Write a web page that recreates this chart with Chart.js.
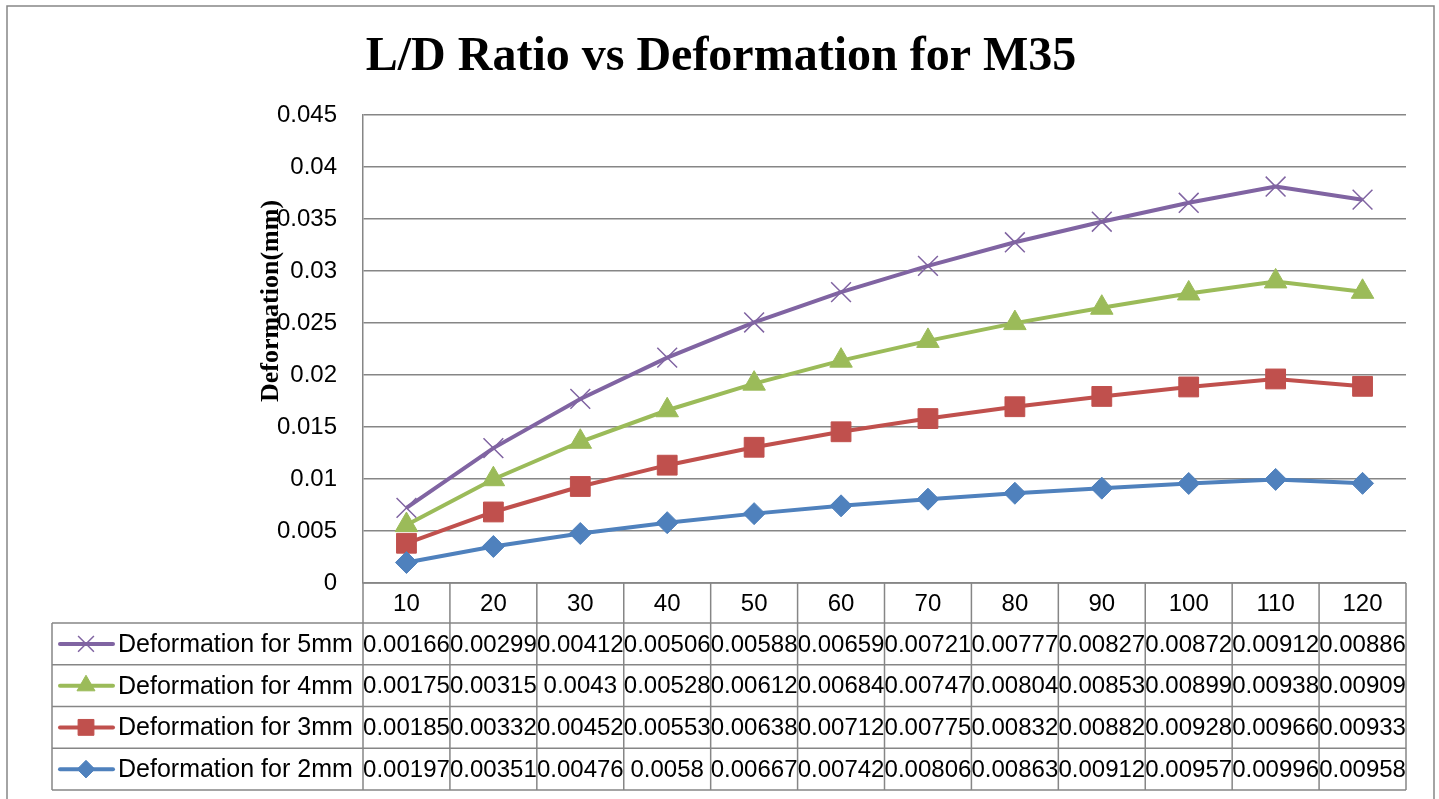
<!DOCTYPE html>
<html lang="en">
<head>
    <meta charset="UTF-8" />
    <title>L/D Ratio vs Deformation for M35</title>
    <script src="https://cdn.jsdelivr.net/npm/chart.js"></script>
    <style>
        html, body { margin: 0; padding: 0; background: #fff; }
        .wrap { width: 1439px; height: 799px; position: relative; }
    </style>
</head>
<body>

    <div class="wrap">
        <canvas id="ldChart" width="1439" height="799"></canvas>
    </div>

    <script>
        // L/D ratios (categories)
        const ratios = ['10', '20', '30', '40', '50', '60', '70', '80', '90', '100', '110', '120'];

        // deformation values per diameter, as listed in the data table
        const def5mm = [0.00166, 0.00299, 0.00412, 0.00506, 0.00588, 0.00659, 0.00721, 0.00777, 0.00827, 0.00872, 0.00912, 0.00886];
        const def4mm = [0.00175, 0.00315, 0.0043, 0.00528, 0.00612, 0.00684, 0.00747, 0.00804, 0.00853, 0.00899, 0.00938, 0.00909];
        const def3mm = [0.00185, 0.00332, 0.00452, 0.00553, 0.00638, 0.00712, 0.00775, 0.00832, 0.00882, 0.00928, 0.00966, 0.00933];
        const def2mm = [0.00197, 0.00351, 0.00476, 0.0058, 0.00667, 0.00742, 0.00806, 0.00863, 0.00912, 0.00957, 0.00996, 0.00958];

        const yMax = 0.045;
        const yStep = 0.005;

        const gridColor = '#868686';
        const sansFont = '"Liberation Sans", Arial, sans-serif';
        const serifFont = '"Liberation Serif", "Times New Roman", serif';

        function series(label, data, color, style, radius) {
            return {
                label: label,
                data: data,
                borderColor: color,
                backgroundColor: color,
                borderWidth: 4,
                pointStyle: style,
                pointRadius: radius,
                pointHoverRadius: radius,
                pointBorderWidth: style === 'crossRot' ? 1.5 : 1,
                pointBorderColor: color,
                pointBackgroundColor: color,
                tension: 0,
                fill: false
            };
        }

        // Title, rotated axis title, frame and data table
        const decorPlugin = {
            id: 'decor',
            afterDraw(chart) {
                const ctx = chart.ctx;
                const area = chart.chartArea;
                const n = ratios.length;
                const colW = (area.right - area.left) / n;
                const hdrBottom = area.bottom + 40;
                const rowH = 41.75;
                const tblLeft = 52;
                const tblBottom = hdrBottom + rowH * 4;

                ctx.save();

                // outer frame
                ctx.strokeStyle = gridColor;
                ctx.lineWidth = 1.5;
                ctx.strokeRect(7, 6, 1427, 810);

                // title
                ctx.fillStyle = '#000';
                ctx.font = 'bold 48px ' + serifFont;
                ctx.textAlign = 'center';
                ctx.textBaseline = 'alphabetic';
                ctx.fillText('L/D Ratio vs Deformation for M35', 721, 70);

                // table lines
                ctx.strokeStyle = gridColor;
                ctx.lineWidth = 1.5;
                ctx.beginPath();
                for (let i = 0; i <= n; i++) {
                    const x = area.left + i * colW;
                    ctx.moveTo(x, area.bottom);
                    ctx.lineTo(x, tblBottom);
                }
                ctx.moveTo(tblLeft, hdrBottom);
                ctx.lineTo(tblLeft, tblBottom);
                ctx.moveTo(area.left, area.bottom);
                ctx.lineTo(area.right, area.bottom);
                for (let r = 0; r <= 4; r++) {
                    const y = hdrBottom + r * rowH;
                    ctx.moveTo(tblLeft, y);
                    ctx.lineTo(area.right, y);
                }
                ctx.stroke();

                // category labels
                ctx.fillStyle = '#000';
                ctx.font = '24px ' + sansFont;
                ctx.textAlign = 'center';
                ctx.textBaseline = 'middle';
                ratios.forEach((lab, i) => {
                    ctx.fillText(lab, chart.scales.x.getPixelForValue(i), area.bottom + 21);
                });

                // rows: legend keys + values (5mm on top)
                const rows = chart.data.datasets.slice().reverse();
                rows.forEach((ds, r) => {
                    const cy = hdrBottom + r * rowH + rowH / 2;
                    // key line
                    ctx.strokeStyle = ds.borderColor;
                    ctx.lineWidth = 4;
                    ctx.lineCap = 'round';
                    ctx.beginPath();
                    ctx.moveTo(60, cy);
                    ctx.lineTo(113, cy);
                    ctx.stroke();
                    ctx.lineCap = 'butt';
                    ctx.fillStyle = ds.backgroundColor;
                    ctx.lineWidth = ds.pointBorderWidth;
                    Chart.helpers.drawPoint(ctx, {
                        pointStyle: ds.pointStyle,
                        radius: ds.pointRadius * 0.8,
                        rotation: 0,
                        borderWidth: ds.pointBorderWidth
                    }, 86, cy);

                    ctx.fillStyle = '#000';
                    ctx.font = '25px ' + sansFont;
                    ctx.textAlign = 'left';
                    ctx.fillText(ds.label, 118, cy + 1);
                    ctx.font = '24px ' + sansFont;
                    ctx.textAlign = 'center';
                    ds.data.forEach((v, i) => {
                        ctx.fillText(String(v), chart.scales.x.getPixelForValue(i), cy + 1);
                    });
                });

                // y axis title (drawn over the tick labels like the original)
                ctx.translate(271, 301);
                ctx.rotate(-Math.PI / 2);
                ctx.fillStyle = '#000';
                ctx.font = 'bold 26px ' + serifFont;
                ctx.textAlign = 'center';
                ctx.textBaseline = 'middle';
                ctx.fillText('Deformation(mm)', 0, 0);

                ctx.restore();
            }
        };

        const ctx = document.getElementById('ldChart').getContext('2d');
        new Chart(ctx, {
            type: 'line',
            data: {
                labels: ratios,
                datasets: [
                    series('Deformation for 2mm', def2mm, '#4F81BD', 'rectRot', 11),
                    series('Deformation for 3mm', def3mm, '#C0504D', 'rect', 14),
                    series('Deformation for 4mm', def4mm, '#9BBB59', 'triangle', 13),
                    series('Deformation for 5mm', def5mm, '#8064A2', 'crossRot', 14)
                ]
            },
            options: {
                responsive: false,
                animation: false,
                devicePixelRatio: 1,
                layout: { padding: { top: 115, left: 0, right: 33, bottom: 216 } },
                plugins: {
                    legend: { display: false },
                    title: { display: false },
                    tooltip: { enabled: false }
                },
                scales: {
                    x: {
                        display: false,
                        offset: true
                    },
                    y: {
                        stacked: true,
                        min: 0,
                        max: yMax,
                        afterFit(scale) { scale.width = 363; },
                        border: { display: true, color: gridColor, width: 1.5 },
                        grid: { color: gridColor, lineWidth: 1.5, drawTicks: false },
                        ticks: {
                            stepSize: yStep,
                            padding: 26,
                            color: '#000',
                            font: { family: sansFont, size: 24 },
                            callback: v => String(+v.toFixed(3))
                        }
                    }
                }
            },
            plugins: [decorPlugin]
        });
    </script>

</body>
</html>
